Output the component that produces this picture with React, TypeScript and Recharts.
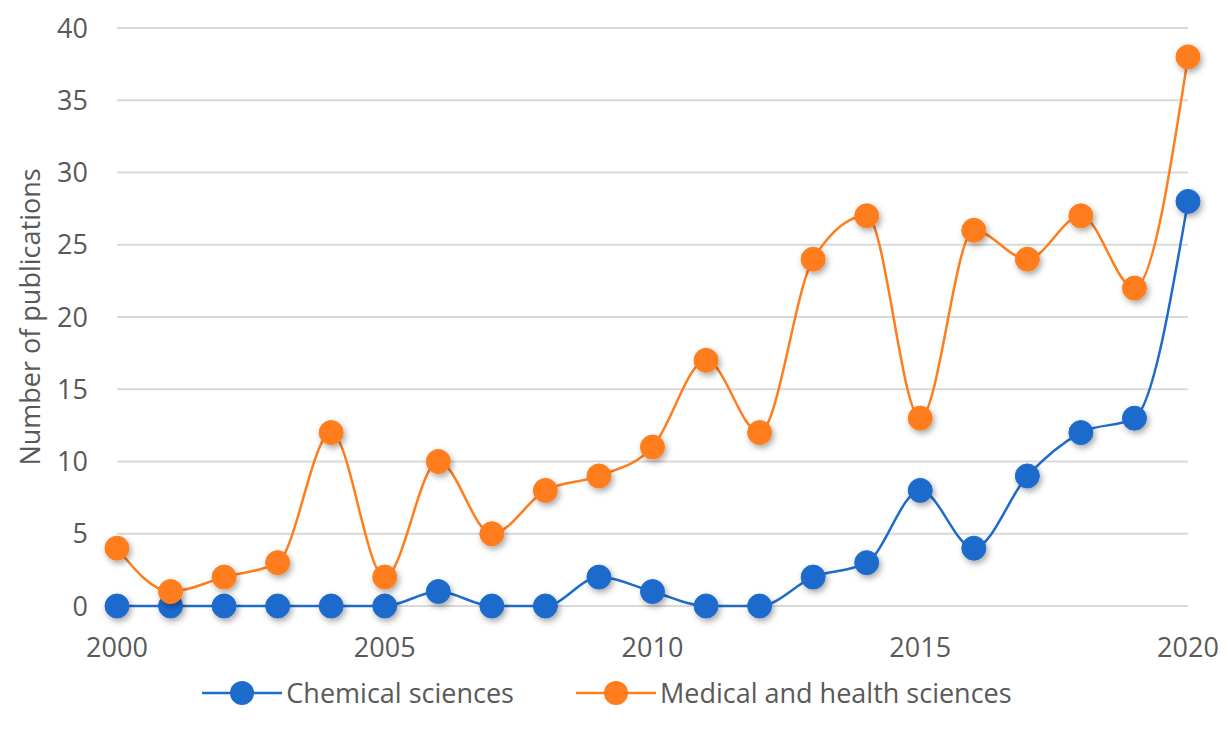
import {
  CartesianGrid,
  Legend,
  Line,
  LineChart,
  XAxis,
  YAxis,
} from 'recharts'

const years = [
  2000, 2001, 2002, 2003, 2004, 2005, 2006, 2007, 2008, 2009, 2010,
  2011, 2012, 2013, 2014, 2015, 2016, 2017, 2018, 2019, 2020,
]
const chemical = [0, 0, 0, 0, 0, 0, 1, 0, 0, 2, 1, 0, 0, 2, 3, 8, 4, 9, 12, 13, 28]
const medical = [4, 1, 2, 3, 12, 2, 10, 5, 8, 9, 11, 17, 12, 24, 27, 13, 26, 24, 27, 22, 38]

const xTicks = [2000, 2005, 2010, 2015, 2020]
const yTicks = [0, 5, 10, 15, 20, 25, 30, 35, 40]

const SERIES = [
  { key: 'chemical', label: 'Chemical sciences', color: '#1f6bcc' },
  { key: 'medical', label: 'Medical and health sciences', color: '#ff7d1c' },
]

const data = years.map((year, i) => ({
  year,
  chemical: chemical[i],
  medical: medical[i],
}))

const FONT = '"Open Sans", sans-serif'
const TEXT = '#595959'

function LegendContent() {
  return (
    <div
      style={{
        display: 'flex',
        justifyContent: 'center',
        gap: 62,
        fontFamily: FONT,
        fontSize: 27,
        color: TEXT,
        paddingLeft: 26,
      }}
    >
      {SERIES.map((s) => (
        <div key={s.key} style={{ display: 'flex', alignItems: 'center' }}>
          <svg width={80} height={30} style={{ marginRight: 4 }}>
            <line x1={0} y1={15} x2={80} y2={15} stroke={s.color} strokeWidth={2.5} />
            <circle cx={40} cy={15} r={12} fill={s.color} />
          </svg>
          <span>{s.label}</span>
        </div>
      ))}
    </div>
  )
}

export default function App() {
  return (
    <div style={{ position: 'absolute', left: 0, top: 0, background: '#fff' }}>
      <LineChart
        width={1230}
        height={733}
        data={data}
        margin={{ top: 28, right: 42, bottom: 22, left: 0 }}
      >
        <defs>
          <filter id="dotShadow" x="-50%" y="-50%" width="200%" height="200%">
            <feDropShadow dx={2} dy={3} stdDeviation={3} floodColor="#000" floodOpacity={0.35} />
          </filter>
        </defs>
        <CartesianGrid vertical={false} stroke="#d9d9d9" strokeWidth={2} />
        <XAxis
          dataKey="year"
          type="number"
          domain={[2000, 2020]}
          ticks={xTicks}
          axisLine={false}
          tickLine={false}
          tickMargin={18}
          height={68}
          tick={{ fontSize: 27, fill: TEXT, fontFamily: FONT, dy: 8 }}
        />
        <YAxis
          domain={[0, 40]}
          ticks={yTicks}
          axisLine={false}
          tickLine={false}
          tickMargin={23}
          width={117}
          tick={{ fontSize: 27, fill: TEXT, fontFamily: FONT }}
          label={{
            value: 'Number of publications',
            angle: -90,
            position: 'insideLeft',
            offset: 30,
            style: { fontSize: 27, fill: TEXT, fontFamily: FONT, textAnchor: 'middle' },
          }}
        />
        <Legend verticalAlign="bottom" content={<LegendContent />} />
        {SERIES.map((s) => (
          <Line
            key={s.key}
            type="monotone"
            dataKey={s.key}
            name={s.label}
            stroke={s.color}
            strokeWidth={2.5}
            dot={{ r: 12, fill: s.color, stroke: s.color, strokeWidth: 1, filter: 'url(#dotShadow)' }}
            activeDot={false}
            isAnimationActive={false}
          />
        ))}
      </LineChart>
    </div>
  )
}
